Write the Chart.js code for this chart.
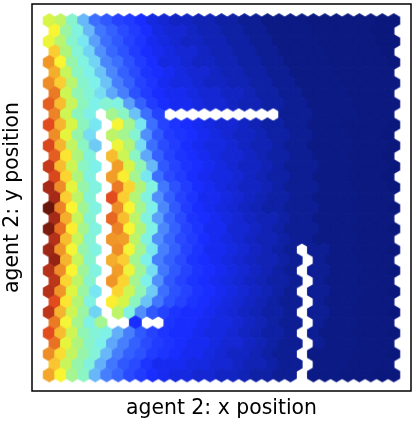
<!DOCTYPE html>
<html>
<head>
<meta charset="utf-8">
<style>
  html, body { margin: 0; padding: 0; background: #fff; }
  canvas { display: block; }
</style>
<script src="https://cdn.jsdelivr.net/npm/chart.js@4"></script>
</head>
<body>
<canvas id="chart" width="415" height="423"></canvas>
<script>
const xLabel = 'agent 2: x position';
const yLabel = 'agent 2: y position';
const _ = null; // empty bin (wall)

// hexbin values, top row first, 0-100 on the colour bar
const topRows = [
  [60,56,42,29,20,17,14,13,11,9, 8,7,7,6,6,5,5,4,4,3,3,3,3,2,2,2,2,2,2,1,1],
  [65,48,38,29,21,18,15,13,11,9, 8,8,7,6,6,5,5,4,4,3,3,3,3,2,2,2,2,2,1,1],
  [63,54,42,34,26,20,17,14,12,10, 9,8,7,7,6,6,5,5,4,4,3,3,3,3,2,2,2,2,2,1,1],
  [70,52,40,32,24,19,16,13,11,10, 9,8,8,7,6,6,5,5,4,4,3,3,3,3,2,2,2,2,2,1],
  [77,65,47,38,32,23,20,16,13,11, 9,9,8,7,7,6,6,5,5,4,4,3,3,3,3,2,2,2,2,2,1],
  [74,57,44,36,30,23,18,15,12,11, 10,9,8,8,7,6,6,5,5,4,4,3,3,3,3,2,2,2,2,2],
  [78,70,54,42,36,30,22,18,14,12, 10,9,9,8,7,7,6,6,5,5,4,4,3,3,3,3,2,2,2,2,2],
  [80,58,46,40,33,27,22,16,13,11, 10,10,9,8,8,7,7,6,5,5,4,4,3,3,3,3,2,2,2,2],
  [83,72,57,45,36,41,38,26,18,13, 11,10,10,9,8,8,7,6,6,5,5,4,4,3,3,3,3,2,2,2,2]
];
const wallRows = [
  [79,58,45,37,_,50,44,30,20,14, _,_,_,_,_,_,_,_,_,_, 4,4,4,3,3,3,3,2,2,2],
  [85,73,60,45,34,_,64,50,34,20, 14,12,11,10,9,8,8,7,6,5,5,4,4,3,3,3,2,2,2,2,1],
  [78,62,47,33,_,55,50,41,24,17, 13,12,11,10,9,8,7,7,6,5,5,4,4,3,3,3,2,2,2,1],
  [86,73,56,44,31,_,63,53,33,20, 15,13,11,10,9,9,8,7,6,6,5,4,4,3,3,3,3,2,2,2,1],
  [83,67,52,39,_,72,58,44,27,18, 14,12,11,10,9,8,8,7,6,5,5,4,4,3,3,3,2,2,2,1],
  [89,72,58,44,36,_,76,60,46,29, 17,14,12,11,10,9,8,7,7,6,5,4,4,4,3,3,3,2,2,2,1],
  [86,69,52,38,_,76,66,50,34,20, 15,13,11,10,9,9,8,7,6,5,5,4,4,3,3,3,2,2,2,1],
  [93,78,62,47,38,_,80,69,52,38, 21,16,13,11,10,9,8,7,7,6,5,4,4,4,3,3,3,2,2,2,1],
  [93,70,55,40,_,85,70,53,38,24, 18,14,12,10,10,9,8,7,6,5,5,4,4,3,3,3,3,2,2,2],
  [100,79,65,49,38,_,78,65,50,36, 23,17,13,11,10,9,8,7,6,5,5,4,4,4,3,3,3,2,2,2,1],
  [93,74,57,41,_,82,72,55,38,26, 19,15,12,11,10,9,8,7,6,6,5,4,4,3,3,3,3,2,2,2],
  [98,81,66,50,38,_,79,65,52,37, 23,18,14,12,10,10,8,8,7,6,5,4,4,4,3,3,3,2,2,2,1],
  [91,72,57,41,_,77,76,55,38,24, 19,15,13,11,10,9,8,7,6,6,5,4,4,3,3,3,3,2,2,2]
];
const lowerRows = [
  [94,77,64,47,38,_,78,64,50,34, 22,18,14,12,10,10,9,8,7,6,5,4,_,4,4,3,3,2,2,2,1],
  [95,73,57,42,_,74,70,50,36,22, 18,15,12,11,10,9,8,7,6,6,5,4,_,4,3,3,3,2,2,2],
  [91,78,65,49,38,_,76,63,49,33, 21,17,14,12,11,10,9,8,7,6,5,4,_,4,4,3,3,3,2,2,1],
  [90,69,55,42,_,77,69,50,36,24, 17,14,12,11,10,9,8,7,6,5,5,4,_,4,3,3,3,2,2,2],
  [91,77,61,48,34,_,69,58,46,31, 20,16,14,12,11,10,9,8,7,6,5,4,_,4,4,3,3,3,2,2,1],
  [85,67,53,38,_,66,60,45,30,21, 16,14,12,11,10,9,8,7,6,5,4,4,_,4,3,3,3,2,2,2],
  [90,73,58,48,32,_,55,38,24,17, 14,12,11,11,10,9,8,7,6,5,5,4,_,4,4,3,3,2,2,2,1],
  [80,64,50,37,50,_,_,11,_,_, 12,11,11,10,9,9,8,7,6,5,4,4,_,4,3,3,3,2,2,2],
  [85,72,58,46,40,37,28,22,17,14, 12,11,11,10,9,9,8,7,6,5,5,4,_,4,3,3,3,2,2,2,1],
  [81,62,52,43,36,27,22,18,15,13, 12,11,10,10,9,8,8,7,6,5,4,4,_,4,3,3,3,2,2,2],
  [78,68,56,47,40,29,22,18,16,13, 12,11,10,10,9,8,7,7,6,5,4,4,_,3,3,3,3,2,2,2,1],
  [71,57,47,39,28,21,17,15,12,10, 10,10,9,9,8,8,7,6,6,5,4,4,_,3,3,3,2,2,2,2],
  [75,65,50,44,29,22,19,15,13,11, 10,9,9,8,8,7,7,6,5,5,4,4,_,3,3,3,2,2,2,1,1]
];
const hexRows = topRows.concat(wallRows, lowerRows);

// colour bar: position, then rgb
const colorStops = [
  [0, 10, 22, 120], [3, 11, 26, 132], [6, 16, 35, 180], [11, 25, 45, 255],
  [20, 60, 110, 255], [28, 100, 175, 250], [35, 125, 240, 240], [45, 140, 245, 190],
  [52, 175, 245, 125], [60, 215, 245, 70], [65, 250, 245, 50], [70, 250, 205, 50],
  [77, 240, 150, 40], [85, 225, 75, 30], [92, 175, 45, 25], [100, 105, 22, 12]
];

function colorFor(v) {
  let i = 0;
  while (i < colorStops.length - 2 && v > colorStops[i + 1][0]) i++;
  const a = colorStops[i], b = colorStops[i + 1];
  const t = (v - a[0]) / (b[0] - a[0]);
  const c = [1, 2, 3].map(n => Math.round(a[n] + (b[n] - a[n]) * t));
  return 'rgb(' + c.join(',') + ')';
}

// hexagon sprites for pointStyle, one per value
const sprites = {};
function hexSprite(v) {
  if (sprites[v]) return sprites[v];
  const c = document.createElement('canvas');
  c.width = 15;
  c.height = 17;
  const g = c.getContext('2d');
  const hw = 6.4, hh = 7.6;
  g.translate(7.5, 8.5);
  g.beginPath();
  g.moveTo(0, -hh);
  g.lineTo(hw, -hh / 2);
  g.lineTo(hw, hh / 2);
  g.lineTo(0, hh);
  g.lineTo(-hw, hh / 2);
  g.lineTo(-hw, -hh / 2);
  g.closePath();
  g.fillStyle = colorFor(v);
  g.fill();
  sprites[v] = c;
  return c;
}

// odd rows sit half a bin to the right
const points = [];
hexRows.forEach((row, r) => {
  row.forEach((v, k) => {
    if (v === null) return;
    points.push({ x: k + (r % 2 ? 0.5 : 0), y: hexRows.length - 1 - r, v: v });
  });
});

const frame = {
  id: 'frame',
  afterDraw(chart) {
    const a = chart.chartArea, c = chart.ctx;
    c.save();
    c.strokeStyle = '#000';
    c.lineWidth = 1.5;
    c.strokeRect(a.left, a.top, a.right - a.left, a.bottom - a.top);
    c.restore();
  }
};

new Chart(document.getElementById('chart'), {
  type: 'scatter',
  data: {
    datasets: [{
      data: points,
      pointRadius: 7,
      pointBorderWidth: 0,
      pointStyle: ctx => hexSprite(ctx.raw.v)
    }]
  },
  options: {
    responsive: false,
    animation: false,
    events: [],
    layout: { autoPadding: false, padding: { top: 4, right: 4, left: 0, bottom: 0 } },
    plugins: { legend: { display: false }, tooltip: { enabled: false } },
    scales: {
      x: {
        type: 'linear', min: -1.5, max: 31.5,
        grid: { display: false }, border: { display: false },
        ticks: { display: false },
        afterFit(s) { s.height = 32; },
        title: {
          display: true, text: xLabel, color: '#000',
          font: { family: 'DejaVu Sans', size: 20.4 }, padding: { top: 0, bottom: 2 }
        }
      },
      y: {
        type: 'linear', min: -1.55, max: 35.6,
        grid: { display: false }, border: { display: false },
        ticks: { display: false },
        afterFit(s) { s.width = 32; },
        title: {
          display: true, text: yLabel, color: '#000',
          font: { family: 'DejaVu Sans', size: 20.4 }, padding: { top: 0, bottom: 2 }
        }
      }
    }
  },
  plugins: [frame]
});
</script>
</body>
</html>
